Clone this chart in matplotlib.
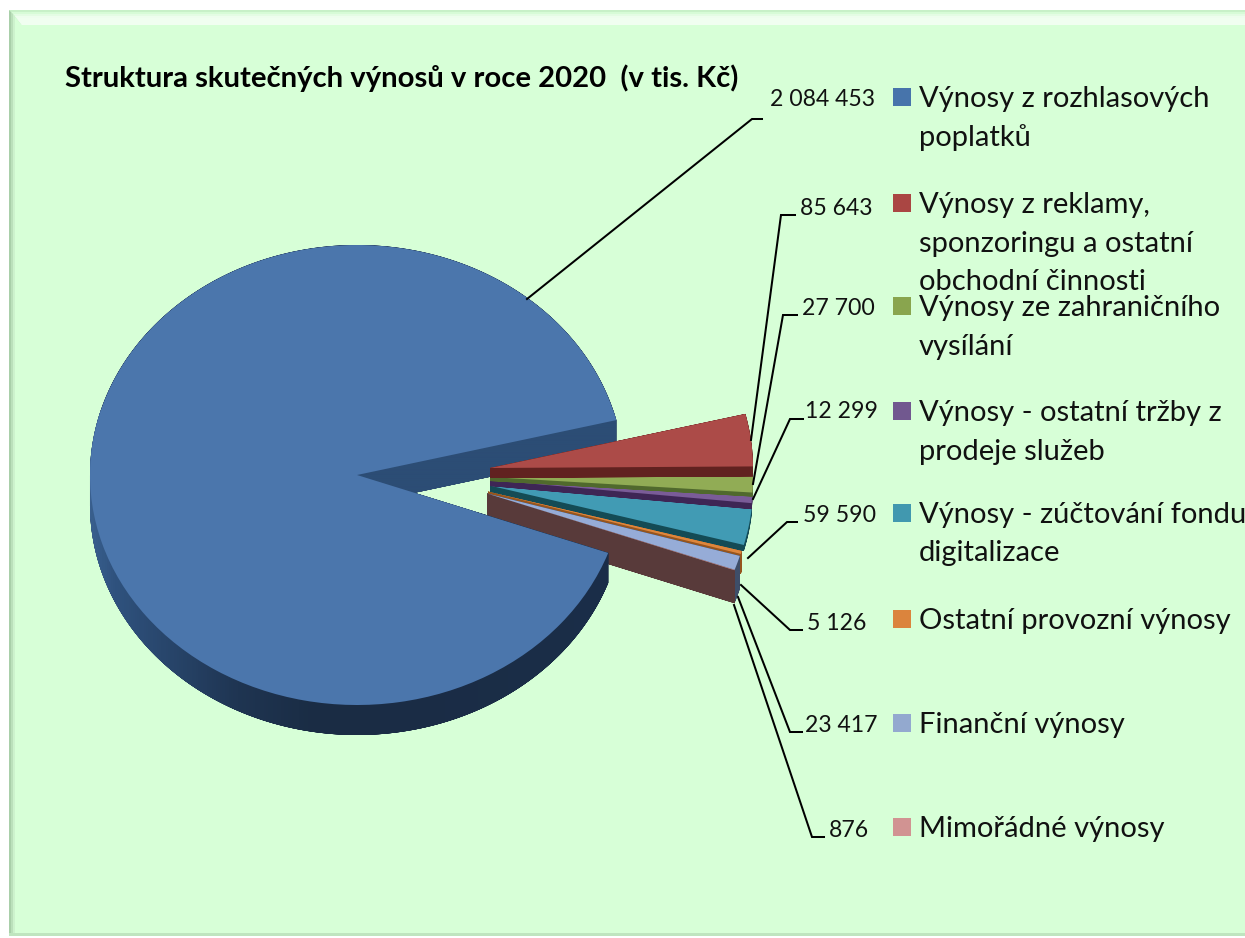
import numpy as np
import matplotlib
matplotlib.use("Agg")
import matplotlib.pyplot as plt
from matplotlib.path import Path
from matplotlib.patches import PathPatch, Polygon, Rectangle
from matplotlib.transforms import Affine2D
from matplotlib.colors import LinearSegmentedColormap

# ---- data ----
categories = ["Výnosy z rozhlasových\npoplatků",
              "Výnosy z reklamy,\nsponzoringu a ostatní\nobchodní činnosti",
              "Výnosy ze zahraničního\nvysílání",
              "Výnosy - ostatní tržby z\nprodeje služeb",
              "Výnosy - zúčtování fondu\ndigitalizace",
              "Ostatní provozní výnosy",
              "Finanční výnosy",
              "Mimořádné výnosy"]
values = [2084453, 85643, 27700, 12299, 59590, 5126, 23417, 876]
value_labels = ["2 084 453", "85 643", "27 700", "12 299", "59 590", "5 126", "23 417", "876"]
title = "Struktura skutečných výnosů v roce 2020  (v tis. Kč)"

# ---- style ----
face = ["#4B76AC", "#AC4B48", "#91AC55", "#7A5C98", "#419BB4", "#DE863C", "#96ACD7", "#D29191"]
legend_col = ["#4774AB", "#AA4643", "#89A54E", "#71588F", "#4198AF", "#DB843D", "#93A9CF", "#D19392"]
side = ["#1B2C44", "#612220", "#50692D", "#3E2655", "#144B55", "#96551E", "#3E4E69", "#583A3A"]
BG = "#D7FFD7"
W, H = 1245, 938
AX0, AY0, RX, RY = 357, 475, 267, 230   # pixel origin and pixel size of one pie radius
START = -19.8
SMALL_R = 0.985
# slice centre in pixels and side depth in pixels
cx = [357, 490, 490, 490, 490, 488, 487, 487]
cy = [475, 468, 477, 480, 485.6, 491.5, 493.5, 493.5]
depth = [30, 10, 4, 6, 6, 20, 33, 33]
legend_y = [99, 205, 308, 413, 515, 621, 725, 829]
label_xy = [(770, 99), (800, 208), (802, 308), (805, 412), (803, 515), (807, 623), (805, 726), (829, 830)]
leaders = [[(527, 299), (752, 119), (762, 119)],
           [(751, 440), (781, 215), (795, 215)],
           [(753, 484), (783, 315), (797, 315)],
           [(753, 499), (790, 419), (803, 419)],
           [(748, 558), (787, 522), (797, 522)],
           [(741, 585), (790, 630), (802, 630)],
           [(738, 597), (790, 732), (802, 732)],
           [(734, 605), (812, 837), (824, 837)]]

plt.rcParams["font.family"] = ["Lato", "DejaVu Sans"]
fig = plt.figure(figsize=(W / 100, H / 100), dpi=100, facecolor="white")
ax = fig.add_axes([0, 0, 1, 1])


def fx(x):
    return x / W


def fy(y):
    return 1 - y / H


T = ax.transAxes


def get_slice(i):
    """Return the pie wedge of slice i, from the pie's own layout."""
    ctr = ((cx[i] - AX0) / RX, (AY0 - cy[i]) / RY)
    rad = 1 if i == 0 else SMALL_R
    wedges, _ = ax.pie(values, startangle=START, counterclock=False, center=ctr, radius=rad,
                       colors=face, wedgeprops=dict(linewidth=0))
    for j, w in enumerate(wedges):
        if j != i:
            w.remove()
    wedges[i].set_zorder(1)
    return wedges[i]


def area(poly):
    x, y = poly[:, 0], poly[:, 1]
    return 0.5 * np.sum(x[:-1] * y[1:] - x[1:] * y[:-1])


def extrude(wedge, i):
    """True downward sweep of the wedge outline, as one compound path."""
    p = wedge.get_patch_transform().transform_path(wedge.get_path())
    poly = p.transformed(Affine2D().scale(1000)).to_polygons()[0] / 1000
    if not np.allclose(poly[0], poly[-1]):
        poly = np.vstack([poly, poly[:1]])
    s = np.sign(area(poly))
    shift = np.array([0, -depth[i] / RY])
    parts = [poly, poly + shift]
    for a, b in zip(poly[:-1], poly[1:]):
        q = np.array([a, b, b + shift, a + shift, a])
        if np.sign(area(q)) != s:
            q = q[::-1]
        parts.append(q)
    verts = np.vstack(parts)
    codes = []
    for q in parts:
        codes += [Path.MOVETO] + [Path.LINETO] * (len(q) - 2) + [Path.CLOSEPOLY]
    return Path(verts, codes)


z = [10]


def draw_side(w, i):
    z[0] += 1
    pp = PathPatch(extrude(w, i), facecolor=side[i], edgecolor="none", lw=0, zorder=z[0])
    ax.add_patch(pp)
    return pp


def draw_face(w):
    z[0] += 1
    w.set_zorder(z[0])


w = {i: get_slice(i) for i in range(8)}

draw_side(w[5], 5)
draw_side(w[6], 6)
draw_side(w[7], 7)
draw_face(w[7])
draw_face(w[6])
draw_face(w[5])

# big slice: side with shading that follows the rim
pp = draw_side(w[0], 0)
grad_cmap = LinearSegmentedColormap.from_list("rim", [(0, "#3D6494"), (0.06, "#2F527E"),
                                                      (0.28, "#1F3552"), (0.42, "#1A2C44"), (1, "#1B2E49")])
ny, nx = 300, 560
xs = np.linspace(80, 640, nx)
ys = np.linspace(410, 750, ny)
X, Y = np.meshgrid(xs, ys)
rgba = grad_cmap((X - 80) / 560)
cut = (X > 357) & (Y < 512)
rgba[cut] = matplotlib.colors.to_rgba("#2C4D75")
im = ax.imshow(rgba, extent=[(80 - AX0) / RX, (640 - AX0) / RX, (AY0 - 750) / RY, (AY0 - 410) / RY],
               origin="upper", aspect="auto", zorder=z[0] + 1, interpolation="bilinear")
im.set_clip_path(pp.get_path(), ax.transData)
z[0] += 1
draw_face(w[0])

for i in [4, 3, 2, 1]:
    draw_side(w[i], i)
    draw_face(w[i])

ax.set_aspect("auto")
ax.set_xlim(-AX0 / RX, (W - AX0) / RX)
ax.set_ylim((AY0 - H) / RY, AY0 / RY)
ax.set_axis_off()
ax.set_frame_on(False)

# ---- panel with bevels ----
bg = Rectangle((0, 0), 1, 1, transform=T, facecolor="white", edgecolor="none", zorder=0, clip_on=False)
ax.add_patch(bg)
ax.add_patch(Rectangle((fx(9), fy(936)), fx(W - 9), fy(10) - fy(936), transform=T, facecolor=BG,
                       edgecolor="none", zorder=0.1))
for a, col in [(0, "#C8F0C8"), (2, "#D7FBD7"), (4, "#E4FCE4"), (6, "#EEFDEE"), (8, "#F0FEF0")]:
    ax.add_patch(Polygon([(fx(9 + a), fy(10 + a)), (fx(W), fy(10 + a)), (fx(W), fy(25)), (fx(22), fy(25))],
                         transform=T, facecolor=col, edgecolor="none", zorder=0.2))
for x0, col in [(9, "#A9CFA9"), (11, "#BBE0BB"), (13, "#CDF2CD")]:
    ax.add_patch(Polygon([(fx(x0), fy(10 + x0 - 9)), (fx(x0 + 2), fy(12 + x0 - 9)), (fx(x0 + 2), fy(933)), (fx(x0), fy(936))],
                         transform=T, facecolor=col, edgecolor="none", zorder=0.3))
ax.add_patch(Rectangle((fx(9), fy(936)), fx(W - 9), fy(933) - fy(936), transform=T, facecolor="#BFE5BF",
                       edgecolor="none", zorder=0.3))

# ---- leaders and labels ----
for pts, lab, (lx, ly) in zip(leaders, value_labels, label_xy):
    ax.plot([fx(p[0]) for p in pts], [fy(p[1]) for p in pts], transform=T, color="black", lw=1.45,
            solid_joinstyle="miter", zorder=50, clip_on=False)
    ax.text(fx(lx), fy(ly), lab, transform=T, ha="left", va="center", fontsize=16.6, color="#111111", zorder=51)

# ---- legend ----
for cat, col, ly in zip(categories, legend_col, legend_y):
    ax.add_patch(Rectangle((fx(893), fy(ly + 7)), 18 / W, 18 / H, transform=T, facecolor=col, edgecolor="none", zorder=51))
    for k, line in enumerate(cat.split("\n")):
        ax.text(fx(919), fy(ly + k * 38.5), line, transform=T, ha="left", va="center",
                fontsize=21, color="#111111", zorder=52)

ax.text(fx(65), fy(78), title, transform=T, ha="left", va="center", fontsize=21.1,
        fontweight="bold", color="black", zorder=52)

fig.savefig("out.png", dpi=100, facecolor="white")
